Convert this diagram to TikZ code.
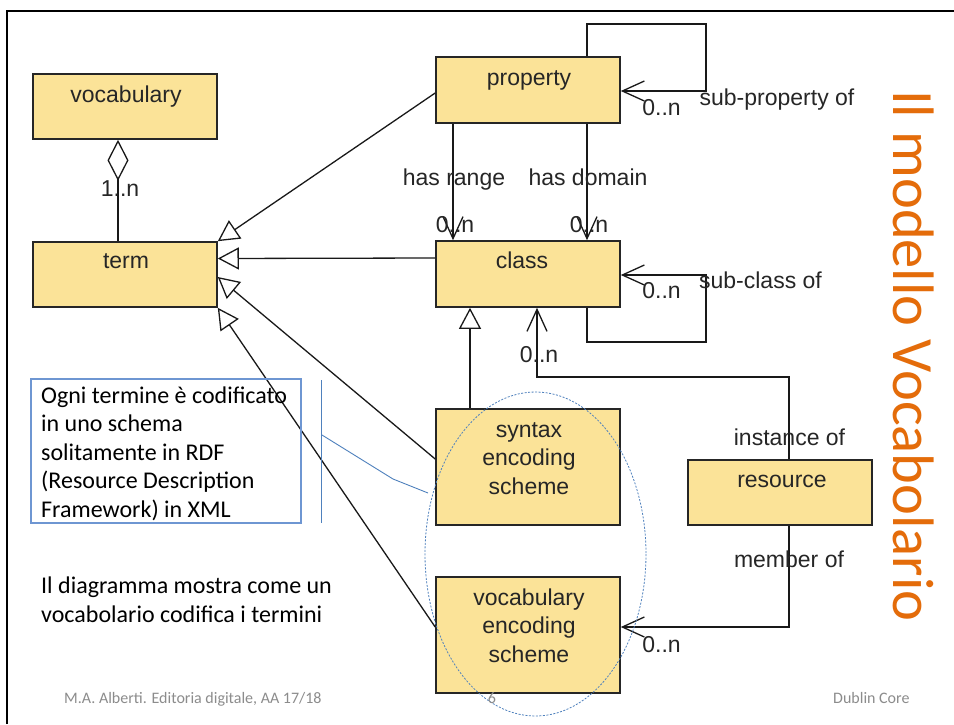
\documentclass[tikz,border=0pt]{standalone}
\usepackage{fontspec}
\setmainfont{Liberation Sans}
\newfontfamily\calfont{Carlito}
\usetikzlibrary{arrows.meta}
\definecolor{boxfill}{RGB}{251,227,152}
\definecolor{titleorange}{RGB}{228,108,10}
\definecolor{noteblue}{RGB}{79,129,189}
\definecolor{noteedge}{RGB}{110,150,210}
\definecolor{footgray}{RGB}{140,140,140}
\tikzset{
  umlbox/.style={draw=black!85, line width=1.6pt, fill=boxfill, minimum width=184pt, minimum height=65pt, inner sep=0pt},
  tallbox/.style={umlbox, minimum height=116pt},
  boxtext/.style={anchor=base, inner sep=0pt, align=center, text=black!85, font=\fontsize{23}{28.5}\selectfont},
  lbl/.style={anchor=base, inner sep=0pt, text=black!85, font=\fontsize{23}{26}\selectfont},
  conn/.style={line width=1.3pt, draw=black!90},
  gen/.style={conn, -{Triangle[length=21pt, width=22pt, fill=white, line width=1.3pt]}},
  assoc/.style={conn, -{Straight Barb[length=22pt, width=20pt, line width=1.3pt]}},
  agg/.style={conn, -{Diamond[length=41pt, width=21pt, fill=white, line width=1.3pt]}},
  notetext/.style={anchor=base west, inner sep=0pt, align=left, font=\calfont\fontsize{24}{28.5}\selectfont},
  foot/.style={anchor=base west, inner sep=0pt, text=footgray, font=\calfont\fontsize{16}{18}\selectfont}
}
\begin{document}
\begin{tikzpicture}[x=1pt, y=-1pt]
\useasboundingbox (0,0) rectangle (954,724);
\fill[white] (0,0) rectangle (954,724);
% frame
\draw[line width=2.5pt] (7,724) -- (7,11) -- (954,11);

% boxes
\node[umlbox] (vocabulary) at (125,106.5) {};
\node[umlbox] (term) at (125,274.5) {};
\node[umlbox, minimum height=66pt] (property) at (528,90) {};
\node[umlbox, minimum height=66pt] (class) at (528,274) {};
\node[tallbox] (syntax) at (528,467) {};
\node[tallbox] (ves) at (528,635) {};
\node[umlbox] (resource) at (780,492.5) {};

\node[boxtext] (vocabulary-t) at (126,102) {vocabulary};
\node[boxtext] (term-t) at (126,268) {term};
\node[boxtext] (property-t) at (529,85) {property};
\node[boxtext] (class-t) at (522,268) {class};
\node[boxtext] (syntax-t) at (529,494) {syntax\\encoding\\scheme};
\node[boxtext] (ves-t) at (529,662) {vocabulary\\encoding\\scheme};
\node[boxtext] (resource-t) at (782,487) {resource};

% connectors
\draw[agg] ([xshift=-7pt]term.north) -- ([xshift=-7pt]vocabulary.south);
\draw[gen] ([yshift=-3pt]property.west) -- (term.north east);
\draw[gen] ([yshift=16pt]class.west) -- ([yshift=16pt]term.east);
\draw[gen] ([yshift=8pt]syntax.west) -- ([yshift=-2.5pt]term.east);
\draw[gen] ([yshift=8pt]ves.west) -- (term.south east);
\draw[assoc] ([xshift=-75pt]property.south) -- ([xshift=-75pt]class.north);
\draw[assoc] ([xshift=59pt]property.south) -- ([xshift=59pt]class.north);
\draw[assoc] ([xshift=59pt]property.north) |- (706,24) |- ([yshift=-1pt]property.east);
\draw[assoc] ([xshift=59pt]class.south) |- (706,342) |- ([yshift=-1pt]class.east);
\draw[gen] ([xshift=-58pt]syntax.north) -- ([xshift=-58pt]class.south);
\draw[assoc] ([xshift=9pt]resource.north) |- (537,377) -- ([xshift=9pt]class.south);
\draw[assoc] ([xshift=9pt]resource.south) |- ([yshift=8pt]ves.east);

% connector labels
\node[lbl] (l-1n) at (120,196) {1..n};
\node[lbl] (l-range) at (454,185) {has range};
\node[lbl] (l-domain) at (588,185) {has domain};
\node[lbl] (l-range-n) at (455,232) {0..n};
\node[lbl] (l-domain-n) at (589,232) {0..n};
\node[lbl] (l-subprop-n) at (661.5,115) {0..n};
\node[lbl] (l-subprop) at (777,105) {sub-property of};
\node[lbl] (l-subclass-n) at (661.5,298) {0..n};
\node[lbl] (l-subclass) at (760.5,288) {sub-class of};
\node[lbl] (l-inst-n) at (539,362) {0..n};
\node[lbl] (l-inst) at (789.5,445) {instance of};
\node[lbl] (l-member) at (789,567) {member of};
\node[lbl] (l-member-n) at (661.5,652) {0..n};

% callout
\draw[noteedge, line width=1.2pt] (31,379) rectangle (301,523);
\node[notetext] (note) at (41,517) {Ogni termine è codificato\\in uno schema\\solitamente in RDF\\(Resource Description\\Framework) in XML};
\draw[noteblue, line width=0.9pt] (321,380) -- (321,523);
\draw[noteblue, line width=0.9pt] (322,435) -- (393,479) -- (428,493);

% ellipse
\draw[noteblue, line width=0.8pt, dash pattern=on 2pt off 1.5pt] (535.5,554) ellipse [x radius=110.5, y radius=162];

% text
\node[notetext] (expl) at (41,622) {Il diagramma mostra come un\\vocabolario codifica i termini};
\node[anchor=base west, inner sep=0pt, rotate=-90, text=titleorange, font=\calfont\fontsize{58.5}{66}\selectfont] (title) at (893,90) {Il modello Vocabolario};

% footer
\node[foot] (f-left) at (64,703) {M.A. Alberti. Editoria digitale, AA 17/18};
\node[foot, anchor=base] (f-num) at (492,703) {6};
\node[foot] (f-right) at (833,703) {Dublin Core};
\end{tikzpicture}
\end{document}
